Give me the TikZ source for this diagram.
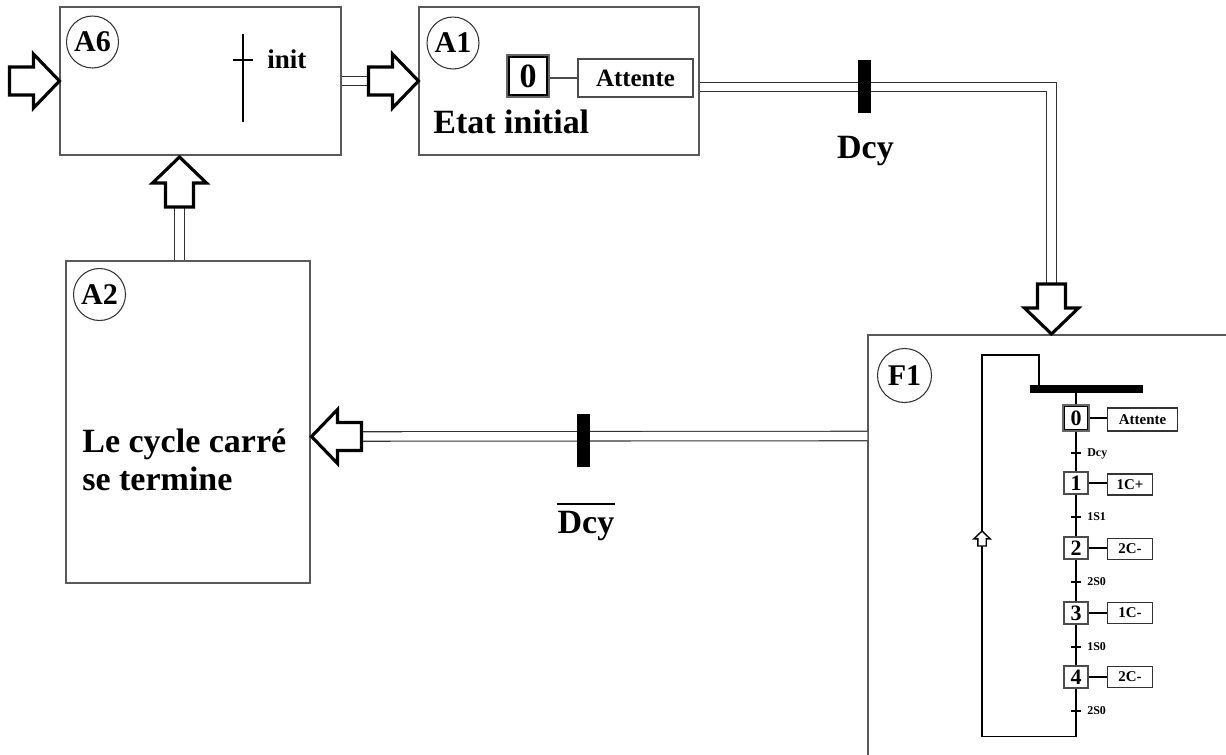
\documentclass[tikz,border=0pt]{standalone}
\usepackage{fontspec}
\setmainfont{Liberation Serif}
\usetikzlibrary{calc,fit}
\newcommand\fsz[1]{\bfseries\fontsize{#1}{#1}\selectfont}
\tikzset{
  boxline/.style={draw=black!65, line width=0.6pt, inner sep=0pt},
  blk/.style={draw=black, line width=1.8pt, fill=white, miter limit=10},
  dbl/.style={draw=black!80, line width=0.6pt, double=white, double distance=4.8pt},
  lbl/.style={font={\fsz{17.1pt}}, circle, draw=black!80, line width=0.6pt, minimum size=1.04cm, inner sep=0pt},
  big/.style={font={\fsz{19.35pt}}, inner sep=0pt},
  trbar/.style={fill=black, minimum width=0.26cm, minimum height=1.06cm, inner sep=0pt},
  thinl/.style={draw=black, line width=0.6pt},
  stepn/.style={draw=black!70, line width=0.6pt, minimum width=0.48cm, minimum height=0.44cm, inner sep=0pt, font={\fsz{12.5pt}}},
  actn/.style={draw=black!80, line width=0.6pt, minimum width=0.9cm, minimum height=0.42cm, inner sep=0pt, anchor=west, font={\fsz{8.5pt}}},
  tickl/.style={draw=black, line width=1.4pt},
  tlab/.style={anchor=base west, inner sep=0pt, font={\fsz{6.8pt}}},
}
\newcommand\blockarrow[3][]{\draw[blk, #1, shift={#2}, rotate=#3] (0,0) -- (-26,27) -- (-26,14) -- (-50,14) -- (-50,-14) -- (-26,-14) -- (-26,-27) -- cycle;}
\begin{document}
\begin{tikzpicture}[x=0.02cm, y=-0.02cm]
\useasboundingbox (0,0) rectangle (1226,754);

% main boxes
\node[boxline, fit={(60,7) (341,155)}] (A6) {};
\node[boxline, fit={(419,7) (699,155)}] (A1) {};
\node[boxline, fit={(66,261) (310,583)}] (A2) {};
\node[boxline, fit={(868,335) (1260,800)}] (F1) {};

% circled labels
\node[lbl] (c6) at (92.5,42) {A6};
\node[lbl] (c1) at (453,43) {A1};
\node[lbl] (c2) at (99.5,294.5) {A2};
\node[lbl, minimum size=1.08cm] (cf) at (904.5,375.5) {F1};

% A6 content
\coordinate (v1) at (243,34);
\coordinate (v2) at (243,122);
\draw[thinl] (v1) -- (v2);
\coordinate (k1) at (233,60);
\coordinate (k2) at (253,60);
\draw[line width=1.7pt] (k1) -- (k2);
\node[anchor=base west, inner sep=0pt, font={\fsz{15.4pt}}] (init) at (267,68) {init};

% A1 content
\node[draw=black!60, line width=0.6pt, minimum size=0.84cm, inner sep=0pt, font={\fsz{19.35pt}}] (z0) at (528,76) {0};
\draw[black, line width=0.9pt] ($(z0.north west)+(2.5,2.5)$) rectangle ($(z0.south east)+(-2.5,-2.5)$);
\node[draw=black!70, line width=0.6pt, minimum width=2.3cm, minimum height=0.76cm, inner sep=0pt, font={\fsz{14.2pt}}] (att) at (635.5,78) {Attente};
\draw[draw=black!70, line width=0.6pt] (z0.east |- att.west) -- (att.west);
\node[big, anchor=base west] (ei) at (433,133) {Etat initial};

% A2 content
\node[big, anchor=base west] (lc1) at (82,452) {Le cycle carré};
\node[big, anchor=base west] (lc2) at (82,490) {se termine};

% input arrow to A6
\blockarrow{(A6.west)}{0}

% A6 -> A1
\coordinate (t1) at ($(A1.west)+(-50,0)$);
\draw[dbl] (A6.east) -- (t1);
\blockarrow{(A1.west)}{0}

% A1 -> F1
\coordinate (o1) at ($(A1.east)+(0,6)$);
\coordinate (f1in) at (1051.5,334);
\coordinate (f1tail) at ($(f1in)+(0,-50)$);
\draw[dbl] (o1) -| (f1tail);
\blockarrow{(f1in)}{-90}
\node[trbar] (b1) at (864.5,86.5) {};
\node[big, anchor=base] (l1) at (865.5,158) {Dcy};

% F1 -> A2
\coordinate (f1out) at ($(F1.north west)+(0,101.5)$);
\coordinate (a2in) at ($(A2.east)+(1,14.5)$);
\coordinate (a2tail) at ($(a2in)+(50,0)$);
\draw[dbl] (f1out) -- (a2tail);
\blockarrow{(a2in)}{180}
\node[trbar] (b2) at (583,440) {};
\node[big, anchor=base] (l2) at (586,533) {Dcy};
\draw[line width=1.6pt] ([yshift=3.6pt]l2.north west) -- ([yshift=3.6pt]l2.north east);

% A2 -> A6
\coordinate (a6in) at (179.5,157);
\coordinate (a6tail) at ($(a6in)+(0,50)$);
\draw[dbl] (a6in |- A2.north) -- (a6tail);
\blockarrow{(a6in)}{90}

% grafcet in F1
\node[fill=black, minimum width=2.26cm, minimum height=0.16cm, inner sep=0pt] (gb) at (1086.5,389) {};
\node[stepn, minimum size=0.52cm, draw=black!60] (s0) at (1076,418) {0};
\draw[black, line width=0.8pt] ($(s0.north west)+(2,2)$) rectangle ($(s0.south east)+(-2,-2)$);
\node[stepn] (s1) at (1076,483) {1};
\node[stepn] (s2) at (1076,548) {2};
\node[stepn] (s3) at (1076,613) {3};
\node[stepn] (s4) at (1076,677) {4};
\node[actn, minimum width=1.4cm, minimum height=0.46cm] (a0) at (1107,419.5) {Attente};
\node[actn] (a1) at (1107,484.5) {1C+};
\node[actn] (a2) at (1107,549) {2C-};
\node[actn] (a3) at (1107,613) {1C-};
\node[actn] (a4) at (1107,677) {2C-};
\foreach \i in {0,...,4} {\draw[thinl] (s\i.east) -- (s\i.east -| a\i.west);}
\draw[thinl] (s0.north |- gb.south) -- (s0.north);
\draw[thinl] (s0.south) -- (s1.north);
\draw[thinl] (s1.south) -- (s2.north);
\draw[thinl] (s2.south) -- (s3.north);
\draw[thinl] (s3.south) -- (s4.north);
\coordinate (gbot) at ($(s4.south)+(0,48)$);
\coordinate (gtl) at (982,355);
\coordinate (gtr) at (1039,355);
\draw[thinl] (s4.south) -- (gbot) -| (gtl) -- (gtr) -- (gtr |- gb.north);
\coordinate (sa) at (982,531);
\blockarrow[line width=0.8pt, scale=0.3]{(sa)}{90}
\foreach \y/\t/\n in {453/Dcy/0, 517/1S1/1, 582/2S0/2, 647/1S0/3, 711/2S0/4} {
  \draw[tickl] (1071,\y) -- (1081,\y);
  \node[tlab] (tl\n) at (1087,\y+3.5) {\t};
}
\end{tikzpicture}
\end{document}
